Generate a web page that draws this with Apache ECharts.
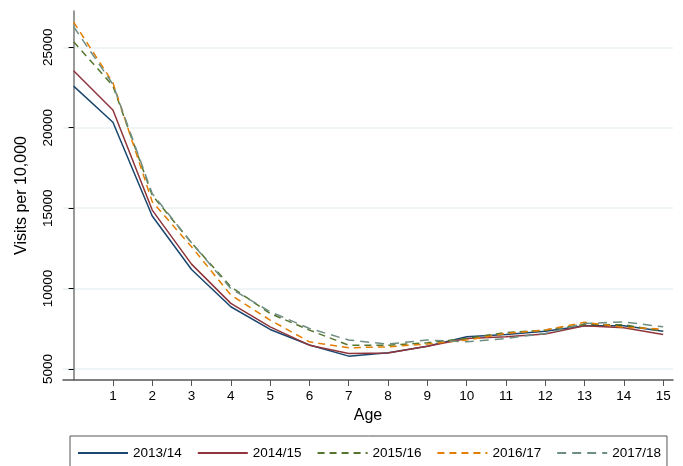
<!DOCTYPE html>
<html>
<head>
<meta charset="utf-8">
<script src="https://cdn.jsdelivr.net/npm/echarts@6/dist/echarts.min.js"></script>
<style>
  html, body { margin: 0; padding: 0; background: #fff; }
  #chart { width: 683px; height: 466px; }
</style>
</head>
<body>
<div id="chart"></div>
<script>
// ages 0..15, visits per 10,000
const ages = [0, 1, 2, 3, 4, 5, 6, 7, 8, 9, 10, 11, 12, 13, 14, 15];
const xTicks = [1, 2, 3, 4, 5, 6, 7, 8, 9, 10, 11, 12, 13, 14, 15];
const yTicks = [5000, 10000, 15000, 20000, 25000];

const y2013 = [22590, 20340, 14510, 11190, 8870, 7460, 6490, 5800, 6010, 6420, 7000, 7150, 7350, 7690, 7690, 7350];
const y2014 = [23545, 21100, 14880, 11520, 9080, 7620, 6480, 5970, 5990, 6420, 6900, 7000, 7170, 7690, 7560, 7150];
const y2015 = [25350, 22600, 15800, 12850, 10110, 8450, 7420, 6480, 6480, 6630, 6900, 7270, 7420, 7770, 7750, 7350];
const y2016 = [26570, 22800, 15400, 12600, 9600, 8040, 6690, 6320, 6380, 6550, 6800, 7210, 7420, 7900, 7590, 7480];
const y2017 = [26280, 22700, 15900, 12850, 10000, 8560, 7520, 6800, 6550, 6800, 6690, 6900, 7210, 7830, 7930, 7620];

const seriesDefs = [
  { name: "2013/14", data: y2013, color: "#1a476f", type: "solid" },
  { name: "2014/15", data: y2014, color: "#90353b", type: "solid" },
  { name: "2015/16", data: y2015, color: "#55752f", type: [7, 5] },
  { name: "2016/17", data: y2016, color: "#e37e00", type: [7, 5] },
  { name: "2017/18", data: y2017, color: "#6e8e84", type: [9, 6] },
];

const font = "Liberation Sans, Arial, sans-serif";
const chart = echarts.init(document.getElementById("chart"));

chart.setOption({
  animation: false,
  backgroundColor: "#fff",
  grid: { left: 63, right: 10, top: 11, bottom: 86 },
  xAxis: {
    type: "value",
    min: -0.27,
    max: 15.25,
    name: "Age",
    nameLocation: "middle",
    nameGap: 26,
    nameTextStyle: { fontFamily: font, fontSize: 16, color: "#000" },
    axisLine: { lineStyle: { color: "#555", width: 1.5 } },
    axisTick: { customValues: xTicks, length: 6, lineStyle: { color: "#555" } },
    axisLabel: { customValues: xTicks, fontFamily: font, fontSize: 13.5, color: "#000", margin: 9 },
    splitLine: { show: false },
  },
  yAxis: {
    type: "value",
    min: 4316,
    max: 27258,
    name: "Visits per 10,000",
    nameLocation: "middle",
    nameGap: 33,
    nameRotate: 90,
    nameTextStyle: { fontFamily: font, fontSize: 16, color: "#000" },
    axisLine: { show: true, lineStyle: { color: "#777", width: 1.5 } },
    axisTick: { show: true, customValues: yTicks, length: 5, lineStyle: { color: "#000" } },
    axisLabel: {
      customValues: yTicks,
      rotate: 90,
      fontFamily: font,
      fontSize: 13.5,
      color: "#000",
      margin: 8,
      formatter: (v) => String(v),
    },
    splitLine: { show: true, lineStyle: { color: "#eaf0f3", width: 1.5 } },
  },
  legend: {
    left: 70,
    top: 436,
    padding: [10, 6, 20, 7],
    itemGap: 15,
    itemWidth: 50,
    itemHeight: 12,
    borderColor: "#555",
    borderWidth: 1,
    itemStyle: { opacity: 0 },
    textStyle: { fontFamily: font, fontSize: 13.5, color: "#000" },
    data: seriesDefs.map((s) => s.name),
  },
  series: seriesDefs.map((s) => ({
    name: s.name,
    type: "line",
    data: ages.map((a, i) => [a, s.data[i]]),
    symbol: "none",
    color: s.color,
    lineStyle: { color: s.color, width: 1.5, type: s.type },
  })),
});
</script>
</body>
</html>
